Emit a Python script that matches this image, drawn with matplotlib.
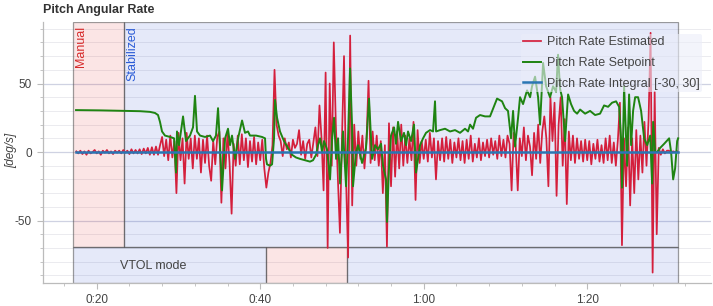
import numpy as np
import matplotlib
matplotlib.use('Agg')
from matplotlib import pyplot as plt
from matplotlib.patches import Rectangle
from matplotlib.ticker import MultipleLocator, FuncFormatter

plt.rcParams['font.family'] = ['Liberation Sans', 'DejaVu Sans']
plt.rcParams['axes.unicode_minus'] = False

# estimated pitch rate, sampled every 0.25 s from 17.5 s
est_t0 = 17.5
est_dt = 0.25
est_vals = [
    0.5, -1, 1, -1.5, 0.5, -2, 1, -1, 0, 1.5,
    -1, 0.5, -2, 1, -0.5, 1.5, -1, 0.5, -1.5, 1,
    -0.5, 1, -1, 1.5, -0.5, 1, -1.5, 2, -1, 1.5,
    -1, 2, -1.5, 2.5, -1, 3, -2, 3.5, -2, 4,
    -2, 5, 11, -3, 9, -6, 12, -4, 8, -30,
    14, -6, 10, -23, 14, -5, 10, -12, 12, -5,
    10, -15, 9, -8, 12, -10, -21, 8, -9, 11,
    15, -37, 10, -12, 14, -8, -45, 6, -10, 12,
    -9, 13, -6, 10, -11, 8, -7, 11, -9, 7,
    -6, 9, -12, -26, -15, -8, 5, 60, 20, 12,
    8, -3, 10, 2, 7, -4, 9, 3, 6, 16,
    -2, 8, -5, 6, 9, -4, 7, 18, -3, 34,
    10, -28, 58, -70, 50, -10, 80, 20, -20, -59,
    10, 70, -20, -77, 85, -39, 20, -10, 15, -5,
    12, -12, 8, 52, -8, 15, -6, 12, -10, 8,
    -30, 5, -69, 21, -25, 18, -18, 15, -12, 20,
    -10, 12, -8, 10, -6, 22, -35, 16, -8, 8,
    -5, 9, -7, 14, -4, 10, -20, 8, -6, 10,
    -7, 11, -5, 9, -8, 7, -4, 10, -6, 8,
    -8, 9, -5, 12, -7, 6, -4, 10, -6, 7,
    -3, 9, -4, 10, -2, 8, -5, 12, -3, 9,
    -4, 12, 6, -28, 14, 5, -28, 10, -3, 18,
    -6, 12, 4, -17, 14, -5, 20, -8, 15, 26,
    10, -25, 40, 8, 36, -32, 20, 40, -10, 24,
    -38, 15, -6, 12, -8, 10, -5, 8, -7, 9,
    -6, 8, -9, 6, -5, 9, -7, 5, -8, 10,
    -6, 12, -8, 7, -10, 9, 36, -68, 10, -25,
    18, -39, 10, -30, 16, -20, 12, -15, 22, -10,
    23, 87, -88, 44, -60, 3, -2, 2, -1, 1,
    1, -1, 0.5, 0, 0.5,
]

# setpoint
sp_t = [
    17.47, 20.40, 23.34, 25.30, 26.52, 27.13, 27.50, 27.74, 27.99, 28.35,
    28.97, 29.46, 29.70, 29.82, 30.07, 30.56, 30.92, 31.41, 31.78, 32.02,
    32.27, 32.64, 33.25, 33.86, 34.23, 34.59, 34.84, 35.08, 35.33, 35.70,
    36.06, 36.31, 36.55, 36.92, 37.29, 37.78, 38.14, 38.51, 38.75, 39.49,
    40.22, 40.59, 40.71, 40.83, 41.20, 41.45, 41.69, 41.81, 42.06, 42.42,
    42.91, 43.40, 43.89, 44.38, 44.87, 45.48, 46.09, 46.46, 46.83, 47.07,
    47.32, 47.56, 47.81, 48.17, 48.54, 48.79, 49.03, 49.28, 49.52, 49.77,
    50.13, 50.50, 50.74, 50.99, 51.23, 51.35, 51.72, 51.97, 52.46, 52.94,
    53.31, 53.68, 54.04, 54.41, 54.78, 55.02, 55.39, 55.51, 55.76, 56.00,
    56.37, 56.61, 56.86, 57.22, 57.59, 57.84, 58.08, 58.45, 58.81, 59.06,
    59.30, 59.55, 59.92, 60.28, 60.77, 61.14, 61.38, 61.51, 62.00, 62.61,
    63.22, 63.83, 64.44, 65.05, 65.42, 65.67, 66.03, 66.40, 66.89, 67.50,
    68.11, 68.97, 69.58, 69.95, 70.31, 70.68, 70.93, 71.17, 71.54, 71.78,
    72.15, 72.64, 73.01, 73.25, 73.62, 73.99, 74.23, 74.60, 74.97, 75.45,
    75.82, 76.19, 76.43, 76.68, 76.92, 77.29, 77.66, 78.02, 78.39, 78.76,
    79.13, 79.74, 80.35, 80.96, 81.57, 82.06, 82.55, 83.04, 83.53, 83.90,
    84.14, 84.26, 84.51, 84.75, 84.88, 85.12, 85.37, 85.61, 85.86, 86.22,
    86.59, 86.96, 87.33, 87.70, 87.94, 88.06, 88.31, 88.55, 88.92, 89.41,
    90.02, 90.26, 90.51, 90.75, 91.00, 91.12,
]
sp_vals = [
    30.6, 30.4, 30.0, 29.8, 29.3, 28.5, 27, 22, 15, 12,
    11, 10, -15, 15, 5, 26, 8, 12, 18, 41,
    15, 12, 11, 12, 8, 12, 32, 5, -28, 10,
    17, 5, 12, -5, 10, 23, 14, 15, 12, 12,
    11, 10, -5, -9, -10, -9, 10, 38, 25, 15,
    8, 3, -2, -4, -5, -6, -7, -6, -2, 5,
    10, 0, 8, 2, -20, 10, 25, -5, 10, -23,
    15, -25, 10, 61, 20, -25, 0, 5, -8, 3,
    39, -5, 5, 2, 6, -10, -20, -51, -10, 12,
    18, 6, 22, 8, 14, 5, 15, 8, 20, -15,
    -5, 5, 10, 14, 16, 15, 37, 15, 16, 17,
    15, 16, 14, 17, 15, 20, 17, 25, 27, 26,
    26, 39, 37, 32, 30, 10, 30, 4, 25, 40,
    35, 45, 40, 48, 55, 40, 20, 65, 48, 40,
    48, 44, 71, 46, 40, 8, 42, 35, 30, 28,
    31, 28, 30, 27, 28, 34, 33, 36, 37, 33,
    10, -26, 48, 10, -10, 42, 5, 30, 40, 40,
    30, 10, 5, 12, -23, 22, 0, 0, 3, 6,
    10, 0, -20, -12, 8, 10,
]

# integral term
integ_t = [17.47, 91.12]
integ_vals = [0.0, 0.0]

# flight modes (start, end)
flight_modes = [('Manual', 17.10, 23.34), ('Stabilized', 23.34, 91.11)]
vtol_modes = [('mc', 17.10, 40.71), ('fw', 40.71, 50.62), ('mc', 50.62, 91.11)]

est_t = est_t0 + est_dt * np.arange(len(est_vals))

fig = plt.figure(figsize=(7.13, 3.06), dpi=100)
ax = fig.add_axes([43 / 713, 23 / 306, 668 / 713, 261 / 306])

y_top, y_bot, vtol_y = 94.9, -95.6, -69.3
ax.set_xlim(13.43, 95.14)
ax.set_ylim(y_bot, y_top)

red_fill = (0.86, 0.0, 0.0, 0.10)
blue_fill = (0.0, 0.16, 0.78, 0.10)
edge = (0.3, 0.3, 0.3, 0.55)
mode_fill = {'Manual': red_fill, 'Stabilized': blue_fill}
mode_col = {'Manual': '#d62a2a', 'Stabilized': '#2a5bd6'}
for name, a, b in flight_modes:
    ax.add_patch(Rectangle((a, vtol_y), b - a, y_top - vtol_y, facecolor=mode_fill[name],
                           edgecolor=edge, lw=0.9, zorder=1))
    ax.text(a + 0.3, y_top - 3, name, rotation=90, ha='left', va='top',
            color=mode_col[name], fontsize=9, zorder=5)
for name, a, b in vtol_modes:
    ax.add_patch(Rectangle((a, y_bot), b - a, vtol_y - y_bot,
                           facecolor=red_fill if name == 'fw' else blue_fill,
                           edgecolor=edge, lw=0.9, zorder=1))
ax.text(22.85, -83.2, 'VTOL mode', ha='left', va='center', color='#444444', fontsize=9)

ax.plot(est_t, est_vals, color='#d41f3c', lw=1.25, label='Pitch Rate Estimated', zorder=3)
ax.plot(sp_t, sp_vals, color='#1f8412', lw=1.4, label='Pitch Rate Setpoint', zorder=3)
ax.plot(integ_t, integ_vals, color='#2a76b4', lw=1.8, label='Pitch Rate Integral [-30, 30]', zorder=3)

ax.xaxis.set_major_locator(MultipleLocator(20))
ax.xaxis.set_minor_locator(MultipleLocator(4))
ax.xaxis.set_major_formatter(FuncFormatter(lambda v, p: '%d:%02d' % (int(v) // 60, int(v) % 60)))
ax.yaxis.set_major_locator(MultipleLocator(50))
ax.yaxis.set_minor_locator(MultipleLocator(10))

ax.grid(False)
for yv in np.arange(-90, 91, 10):
    if yv % 50 == 0:
        ax.axhline(yv, color='#cfd2e2', lw=0.9, zorder=0.5)
    else:
        ax.axhline(yv, color='#ebebef', lw=0.7, zorder=0.5)

for s in ['top', 'right']:
    ax.spines[s].set_visible(False)
for s in ['left', 'bottom']:
    ax.spines[s].set_color('#bbbbbb')
    ax.spines[s].set_linewidth(0.9)
ax.tick_params(which='major', length=4.5, color='#bbbbbb', labelcolor='#444444', labelsize=8.5)
ax.tick_params(which='minor', length=2.5, color='#bbbbbb')

fig.text(11 / 713, 1 - 150 / 306, '[deg/s]', rotation=90, ha='center', va='center',
         style='italic', fontsize=8.5, color='#444444')
fig.text(43 / 713, 1 - 10 / 306, 'Pitch Angular Rate', ha='left', va='center',
         fontweight='bold', fontsize=9, color='#333333')

leg = ax.legend(loc='upper left', bbox_to_anchor=(0.715, 0.955), frameon=True, fontsize=9,
                handlelength=1.45, handletextpad=0.45, labelspacing=0.7, borderpad=0.2,
                borderaxespad=0)
leg.get_frame().set_facecolor((0.92, 0.935, 0.975))
leg.get_frame().set_alpha(0.6)
leg.get_frame().set_edgecolor('none')
for t in leg.get_texts():
    t.set_color('#444444')

fig.savefig('out.png', dpi=100)
